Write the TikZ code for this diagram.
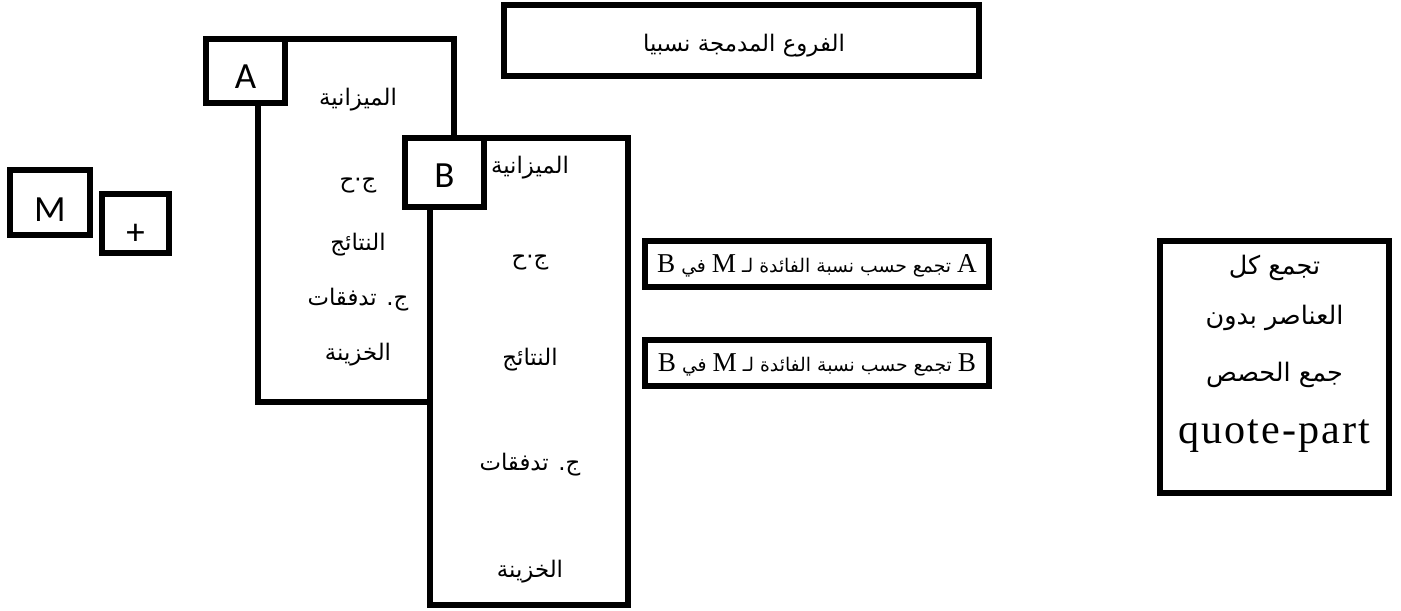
\documentclass[tikz,border=0pt]{standalone}
\usepackage{fontspec}
\TeXXeTstate=1
\newfontfamily\arabicfont[Script=Arabic]{DejaVu Sans}
\newfontfamily\labelfont{Carlito}
\newfontfamily\latserif{Liberation Serif}
\newfontfamily\latserifsp[LetterSpace=5]{Liberation Serif}
\newcommand\lat[1]{{\latserif\fontsize{15.5}{18}\selectfont #1}}
\begin{document}
\begin{tikzpicture}[x=0.02cm,y=-0.02cm,
  box/.style={draw=black, line width=3.4pt, fill=white, inner sep=0pt},
  ar/.style={font=\arabicfont\fontsize{13}{15}\selectfont, inner sep=0pt},
  arbox/.style={font=\arabicfont\fontsize{10.7}{13}\selectfont, inner sep=0pt},
  arbig/.style={font=\arabicfont\fontsize{14.5}{17}\selectfont, inner sep=0pt},
  lbl/.style={font=\labelfont\fontsize{21}{25}\selectfont, inner sep=0pt},
]
\useasboundingbox (0,0) rectangle (1401,611);
% title box
\node[box, minimum width=9.5cm, minimum height=1.42cm] (title) at (741.5,40.5) {};
\node[font=\arabicfont\fontsize{13}{15}\selectfont, inner sep=0pt] (titletxt) at (744,46) {\beginR الفروع المدمجة نسبيا\endR};
% M and + boxes
\node[box, minimum width=1.6cm, minimum height=1.3cm] (M) at (50,202.5) {};
\node[lbl] (Mtxt) at (50,210) {M};
\node[box, minimum width=1.34cm, minimum height=1.18cm] (plus) at (135.5,223.5) {};
\node[lbl] (plustxt) at (135.5,234) {+};
% frame A
\node[box, minimum width=3.92cm, minimum height=7.26cm] (Aframe) at (356,220.5) {};
\node[box, minimum width=1.58cm, minimum height=1.28cm] (Abox) at (245.5,71) {};
\node[lbl] (Atxt) at (245.5,77) {A};
\node[ar] (A1) at (358,100) {\beginR الميزانية\endR};
\node[ar] (A2) at (358,185) {\beginR ج·ح\endR};
\node[ar] (A3) at (358,245) {\beginR النتائج\endR};
\node[ar] (A4) at (358,300) {\beginR ج. تدفقات\endR};
\node[ar] (A5) at (358,355) {\beginR الخزينة\endR};
% frame B
\node[box, minimum width=3.96cm, minimum height=9.34cm] (Bframe) at (529,371.5) {};
\node[box, minimum width=1.58cm, minimum height=1.38cm] (Bbox) at (444.5,172.5) {};
\node[lbl] (Btxt) at (444.5,176) {B};
\node[ar] (B1) at (530,168) {\beginR الميزانية\endR};
\node[ar] (B2) at (530,262) {\beginR ج·ح\endR};
\node[ar] (B3) at (530,360) {\beginR النتائج\endR};
\node[ar] (B4) at (530,465) {\beginR ج. تدفقات\endR};
\node[ar] (B5) at (530,572) {\beginR الخزينة\endR};
% middle boxes
\node[box, minimum width=6.9cm, minimum height=0.92cm] (box1) at (817,264) {};
\node[arbox] (box1txt) at (817,266) {\beginR\lat{A} تجمع حسب نسبة الفائدة لـ \lat{M} في \lat{B}\endR};
\node[box, minimum width=6.9cm, minimum height=0.92cm] (box2) at (817,363) {};
\node[arbox] (box2txt) at (817,365) {\beginR\lat{B} تجمع حسب نسبة الفائدة لـ \lat{M} في \lat{B}\endR};
% right box
\node[box, minimum width=4.58cm, minimum height=5.04cm] (right) at (1274.5,367) {};
\node[arbig] (R1) at (1274.5,268) {\beginR تجمع كل\endR};
\node[arbig] (R2) at (1274.5,318) {\beginR العناصر بدون\endR};
\node[arbig] (R3) at (1274.5,375) {\beginR جمع الحصص\endR};
\node[inner sep=0pt, font=\latserifsp\fontsize{24}{28}\selectfont] (R4) at (1274.5,436) {quote-part};
\end{tikzpicture}
\end{document}
